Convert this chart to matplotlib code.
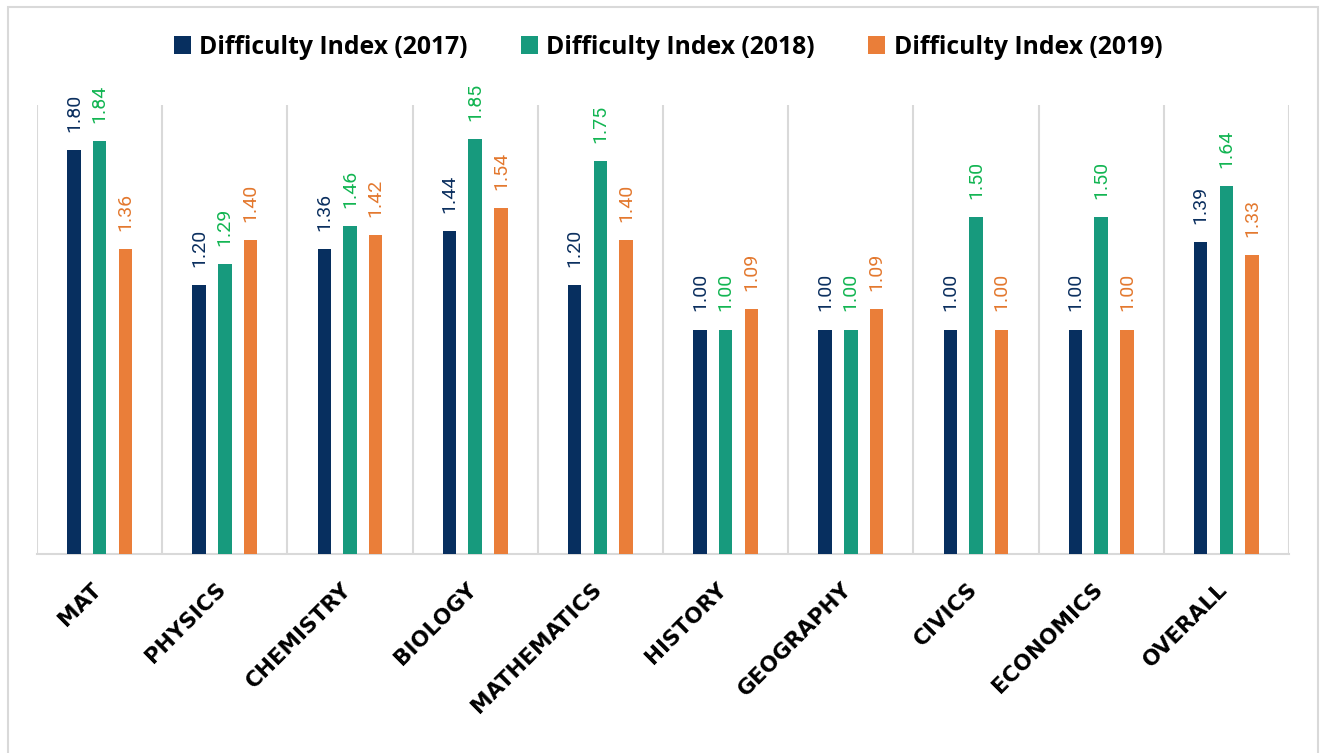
import matplotlib
matplotlib.use("Agg")
import matplotlib.pyplot as plt
from matplotlib.patches import Rectangle, Patch
from matplotlib.transforms import ScaledTranslation
import numpy as np

categories = ["MAT", "PHYSICS", "CHEMISTRY", "BIOLOGY", "MATHEMATICS",
              "HISTORY", "GEOGRAPHY", "CIVICS", "ECONOMICS", "OVERALL"]
di_2017 = [1.80, 1.20, 1.36, 1.44, 1.20, 1.00, 1.00, 1.00, 1.00, 1.39]
di_2018 = [1.84, 1.29, 1.46, 1.85, 1.75, 1.00, 1.00, 1.50, 1.50, 1.64]
di_2019 = [1.36, 1.40, 1.42, 1.54, 1.40, 1.09, 1.09, 1.00, 1.00, 1.33]
series_names = ["Difficulty Index (2017)", "Difficulty Index (2018)", "Difficulty Index (2019)"]

bar_colors = ["#072F5F", "#179A7D", "#EA7E39"]
label_colors = ["#0B2F5F", "#12B552", "#E3782E"]

W, H = 1322, 753
fig = plt.figure(figsize=(W / 100, H / 100), dpi=100)
fig.patch.set_facecolor("white")

ax = fig.add_axes([37 / W, 1 - 554 / H, (1289 - 37) / W, (554 - 105) / H])
x = np.arange(len(categories))
offsets = [-0.205, 0.0, 0.205]
bw = 0.108
for vals, off, bc, lc in zip([di_2017, di_2018, di_2019], offsets, bar_colors, label_colors):
    bars = ax.bar(x + off, vals, width=bw, color=bc, zorder=3)
    for b, v in zip(bars, vals):
        ax.annotate(f"{v:.2f}", (b.get_x() + b.get_width() / 2, v),
                    xytext=(0, 13), textcoords="offset points",
                    rotation=90, ha="center", va="bottom",
                    color=lc, fontsize=14, family="Roboto", fontweight="normal")

ax.set_xlim(-0.5, len(categories) - 0.5)
ax.set_ylim(0, 2.0)
ax.set_yticks([])
ax.set_xticks(x)
ax.set_xticklabels(categories, rotation=45, ha="right", va="top",
                   rotation_mode="anchor", fontsize=15.5,
                   family="DejaVu Sans", fontweight="bold", color="black")
ax.tick_params(axis="x", length=0, pad=18)
shift = ScaledTranslation(-9 / 100, 0, fig.dpi_scale_trans)
for lab in ax.get_xticklabels():
    lab.set_transform(lab.get_transform() + shift)
for b in np.arange(-0.5, len(categories), 1.0):
    ax.axvline(b, color="#D9D9D9", lw=1.5, zorder=1)
for s in ["top", "right", "left"]:
    ax.spines[s].set_visible(False)
ax.spines["bottom"].set_color("#D9D9D9")
ax.spines["bottom"].set_linewidth(1.5)

handles = [Patch(facecolor=c, edgecolor="none") for c in bar_colors]
fig.legend(handles, series_names, loc="center", ncol=3,
           bbox_to_anchor=(668 / W, 1 - 47 / H), frameon=False,
           prop={"family": "Open Sans", "weight": "bold", "size": 17.8},
           handlelength=0.7, handleheight=0.7, handletextpad=0.33,
           columnspacing=2.15)

fig.add_artist(Rectangle((8 / W, -0.02), (1318 - 8) / W, 1.02 - 7 / H,
                         transform=fig.transFigure, fill=False,
                         edgecolor="#D9D9D9", lw=1.5))

fig.savefig("out.png", dpi=100, facecolor="white")
